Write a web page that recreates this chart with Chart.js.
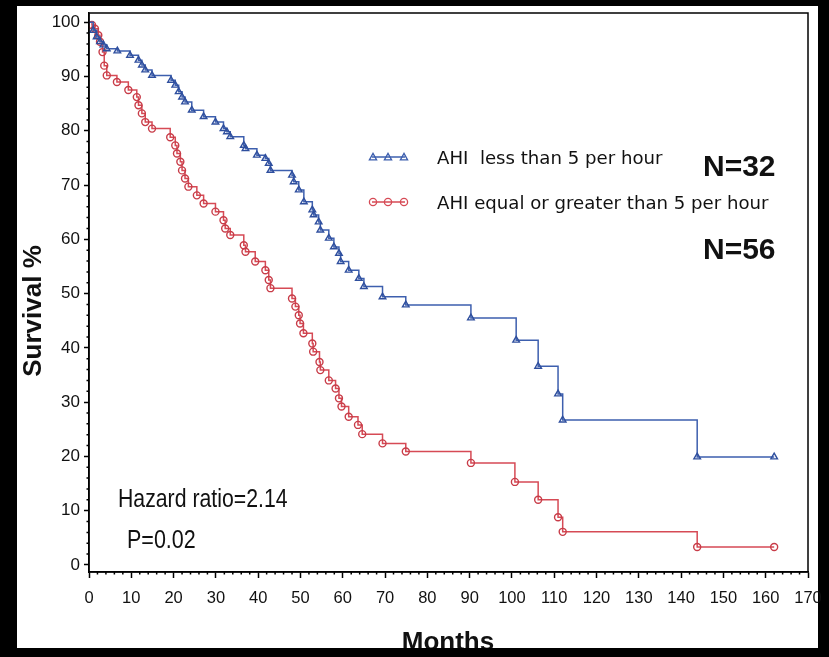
<!DOCTYPE html>
<html lang="en">
<head>
<meta charset="UTF-8">
<title>Survival by AHI</title>
<script src="https://cdn.jsdelivr.net/npm/chart.js"></script>
<style>
  html, body { margin: 0; padding: 0; background: #000; }
  #wrap { width: 829px; height: 657px; }
</style>
</head>
<body>
<div id="wrap"><canvas id="kmChart" width="829" height="657"></canvas></div>
<script>
// survival curves (months, survival %)
const lowMonths = [0, 1, 1.8, 2.6, 3.4, 4.2, 6.7, 9.7, 11.7, 12.5, 13.3, 14.9, 19.4, 20.4, 21.2, 22,
  22.7, 24.3, 27.1, 29.9, 31.8, 32.6, 33.4, 36.6, 37, 39.7, 41.7, 42.5, 42.9, 48, 48.4, 49.6,
  50.8, 52.8, 53.1, 54.3, 54.7, 56.7, 57.9, 59.1, 59.5, 61.4, 63.8, 65, 69.4, 74.9, 90.3, 101,
  106.2, 110.9, 112, 143.8, 162];
const lowSurvival = [100, 98.5, 97.3, 96.4, 95.8, 95.1, 94.7, 93.9, 93, 92.1, 91.2, 90.2, 89.3, 88.4, 87.2, 86.2,
  85.3, 83.8, 82.6, 81.6, 80.4, 79.8, 78.9, 77.3, 76.7, 75.5, 74.9, 74, 72.7, 71.8, 70.6, 69.1,
  66.9, 65.4, 64.5, 63.2, 61.7, 60.2, 58.6, 57.4, 55.9, 54.3, 52.8, 51.3, 49.4, 47.9, 45.5, 41.4,
  36.6, 31.5, 26.7, 19.9, 19.9];

const highMonths = [0, 0.7, 1.4, 2.2, 2.6, 3.2, 3.6, 4.2, 6.6, 9.3, 11.3, 11.7, 12.5, 13.3, 14.9,
  19.2, 20.4, 20.8, 21.6, 22, 22.7, 23.5, 25.5, 27.1, 29.9, 31.8, 32.2, 33.4, 36.6, 37, 39.3,
  41.7, 42.5, 42.9, 48, 48.8, 49.6, 49.9, 50.7, 52.8, 53, 54.5, 54.7, 56.7, 58.3, 59.1, 59.7,
  61.4, 63.6, 64.6, 69.4, 74.9, 90.3, 100.7, 106.2, 110.9, 112, 143.8, 162];
const highSurvival = [100, 99.5, 98.8, 97.6, 96.4, 94.5, 92, 90.2, 89, 87.5, 86.2, 84.7, 83.2, 81.6, 80.4,
  78.8, 77.3, 75.8, 74.3, 72.7, 71.2, 69.7, 68.1, 66.6, 65.1, 63.5, 62, 60.8, 58.9, 57.7, 55.9,
  54.3, 52.5, 51, 49.1, 47.6, 46, 44.5, 42.7, 40.8, 39.3, 37.4, 35.9, 34, 32.5, 30.7, 29.2,
  27.3, 25.8, 24.1, 22.4, 20.9, 18.8, 15.3, 12, 8.8, 6.1, 3.3, 3.3];

const seriesLabels = ['AHI  less than 5 per hour', 'AHI equal or greater than 5 per hour'];
const groupSizes = ['N=32', 'N=56'];
const statsLines = ['Hazard ratio=2.14', 'P=0.02'];
const xTickValues = [0, 10, 20, 30, 40, 50, 60, 70, 80, 90, 100, 110, 120, 130, 140, 150, 160, 170];
const yTickValues = [0, 10, 20, 30, 40, 50, 60, 70, 80, 90, 100];

const BLUE = '#3d5fae';
const RED = '#d64a55';
const SANS = '"Liberation Sans", Arial, sans-serif';

function toPoints(xs, ys) {
  return xs.map((x, i) => ({ x: x, y: ys[i] }));
}

function triangle(ctx, x, y, r) {
  ctx.beginPath();
  ctx.moveTo(x, y - r);
  ctx.lineTo(x + r, y + r * 0.8);
  ctx.lineTo(x - r, y + r * 0.8);
  ctx.closePath();
  ctx.stroke();
}

function circle(ctx, x, y, r) {
  ctx.beginPath();
  ctx.arc(x, y, r, 0, Math.PI * 2);
  ctx.stroke();
}

// condensed text: squeeze horizontally around the left anchor
function narrowText(ctx, text, x, y, squeeze) {
  ctx.save();
  ctx.translate(x, y);
  ctx.scale(squeeze, 1);
  ctx.fillText(text, 0, 0);
  ctx.restore();
}

const decor = {
  id: 'decor',
  beforeDraw(chart) {
    const ctx = chart.ctx;
    ctx.save();
    ctx.fillStyle = '#000';
    ctx.fillRect(0, 0, chart.width, chart.height);
    ctx.fillStyle = '#fff';
    ctx.fillRect(17, 6, 801, 642);
    ctx.restore();
  },
  afterDraw(chart) {
    const ctx = chart.ctx;
    const a = chart.chartArea;
    const xs = chart.scales.x;
    const ys = chart.scales.y;
    ctx.save();

    // minor ticks
    ctx.strokeStyle = '#000';
    ctx.lineWidth = 1.5;
    ctx.beginPath();
    for (let m = 2; m < 170; m += 2) {
      if (m % 10 === 0) continue;
      const px = xs.getPixelForValue(m);
      ctx.moveTo(px, a.bottom);
      ctx.lineTo(px, a.bottom + 2.5);
    }
    for (let s = 2; s < 100; s += 2) {
      if (s % 10 === 0) continue;
      const py = ys.getPixelForValue(s);
      ctx.moveTo(a.left, py);
      ctx.lineTo(a.left - 2.5, py);
    }
    ctx.stroke();

    // frame
    ctx.lineWidth = 1.5;
    ctx.strokeRect(a.left, a.top, a.right - a.left, a.bottom - a.top);

    // legend
    const rows = [{ y: 157, color: BLUE, mark: triangle }, { y: 202, color: RED, mark: circle }];
    ctx.font = '18.5px "DejaVu Sans", Verdana, sans-serif';
    ctx.textBaseline = 'middle';
    rows.forEach((row, i) => {
      ctx.strokeStyle = row.color;
      ctx.lineWidth = 1.3;
      ctx.beginPath();
      ctx.moveTo(372, row.y);
      ctx.lineTo(405, row.y);
      ctx.stroke();
      [373, 388, 404].forEach(px => row.mark(ctx, px, row.y, 3.6));
      ctx.fillStyle = '#111';
      ctx.textAlign = 'left';
      narrowText(ctx, seriesLabels[i], 437, row.y + 2, 0.98);
    });

    // group sizes
    ctx.font = 'bold 30px ' + SANS;
    ctx.fillStyle = '#111';
    ctx.textAlign = 'left';
    ctx.fillText(groupSizes[0], 703, 168);
    ctx.fillText(groupSizes[1], 703, 251);

    // statistics
    ctx.font = '25px ' + SANS;
    narrowText(ctx, statsLines[0], 118, 500, 0.85);
    narrowText(ctx, statsLines[1], 127, 541, 0.86);

    // axis titles
    ctx.font = 'bold 26px ' + SANS;
    ctx.textAlign = 'center';
    ctx.save();
    ctx.translate(34, 311);
    ctx.rotate(-Math.PI / 2);
    ctx.fillText('Survival %', 0, 0);
    ctx.restore();
    ctx.fillText('Months', 448, 643);

    // bottom border cuts the title
    ctx.fillStyle = '#000';
    ctx.fillRect(0, 648, chart.width, chart.height - 648);
    ctx.restore();
  }
};

const ctx = document.getElementById('kmChart').getContext('2d');
const kmChart = new Chart(ctx, {
  type: 'line',
  data: {
    datasets: [
      {
        label: seriesLabels[0],
        data: toPoints(lowMonths, lowSurvival),
        borderColor: BLUE,
        borderWidth: 1.5,
        stepped: 'before',
        pointStyle: 'triangle',
        pointRadius: lowMonths.map((m, i) => i === 0 ? 0 : 3.8),
        pointBorderColor: '#2f4f9e',
        pointBackgroundColor: 'rgba(255,255,255,0)',
        pointBorderWidth: 1.4,
        fill: false
      },
      {
        label: seriesLabels[1],
        data: toPoints(highMonths, highSurvival),
        borderColor: RED,
        borderWidth: 1.5,
        stepped: 'before',
        pointStyle: 'circle',
        pointRadius: highMonths.map((m, i) => i === 0 ? 0 : 3.5),
        pointBorderColor: '#c83c48',
        pointBackgroundColor: 'rgba(255,255,255,0)',
        pointBorderWidth: 1.4,
        fill: false
      }
    ]
  },
  options: {
    responsive: false,
    animation: false,
    devicePixelRatio: 1,
    layout: { padding: { left: 0, right: 21, top: 13, bottom: 0 } },
    plugins: {
      legend: { display: false },
      tooltip: { enabled: false }
    },
    scales: {
      x: {
        type: 'linear',
        min: 0,
        max: 170,
        afterBuildTicks: scale => { scale.ticks = xTickValues.map(v => ({ value: v })); },
        afterFit: scale => {
          scale.height = 85;
          scale.paddingLeft = 0;
          scale.paddingRight = 0;
        },
        grid: { drawOnChartArea: false, tickLength: 6, tickColor: '#000', tickWidth: 1.5 },
        border: { color: '#000', width: 1.5 },
        ticks: {
          color: '#111',
          font: { family: SANS, size: 16.5 },
          padding: 11,
          maxRotation: 0,
          autoSkip: false
        }
      },
      y: {
        type: 'linear',
        min: -1.3,
        max: 101.7,
        afterBuildTicks: scale => { scale.ticks = yTickValues.map(v => ({ value: v })); },
        afterFit: scale => {
          scale.width = 89;
          scale.paddingTop = 0;
          scale.paddingBottom = 0;
        },
        grid: { drawOnChartArea: false, tickLength: 5, tickColor: '#000', tickWidth: 1.5 },
        border: { color: '#000', width: 1.5 },
        ticks: {
          color: '#111',
          font: { family: SANS, size: 17 },
          padding: 4,
          autoSkip: false
        }
      }
    }
  },
  plugins: [decor]
});
</script>
</body>
</html>
